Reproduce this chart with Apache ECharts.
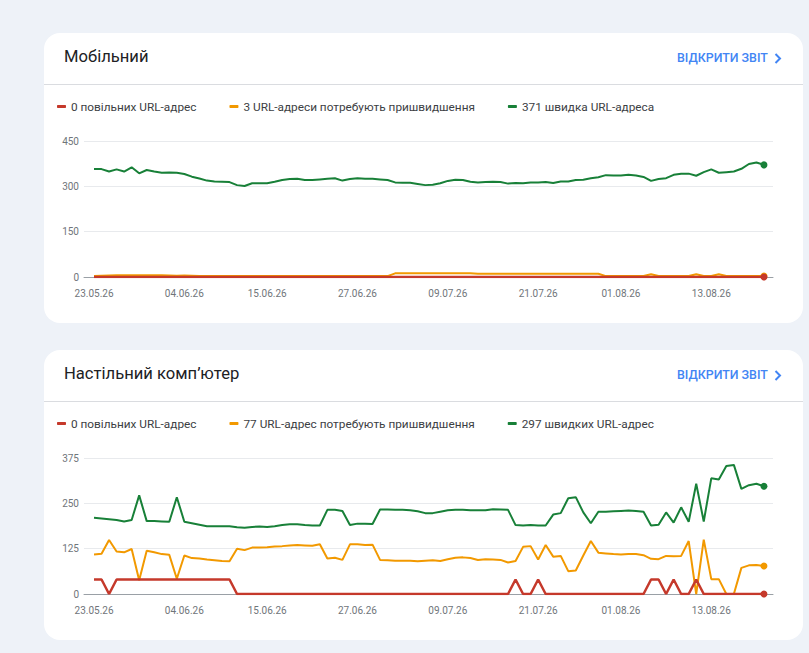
<!DOCTYPE html>
<html><head><meta charset="utf-8">
<script src="https://cdn.jsdelivr.net/npm/echarts@6/dist/echarts.min.js"></script>
<style>
html,body{margin:0;padding:0;background:#eef2f8;width:809px;height:653px;overflow:hidden;font-family:Roboto,"Noto Sans",sans-serif;}
.card{position:absolute;left:44px;width:759px;height:290px;background:#fff;border-radius:16px;}
.title{position:absolute;left:20px;top:14px;font-size:16.6px;line-height:20px;color:#202124;white-space:nowrap;}
.link{position:absolute;left:633px;top:17px;font-size:12.4px;line-height:16px;font-weight:500;color:#4285f4;white-space:nowrap;}
.link svg{position:absolute;left:97px;top:3px;}
.divider{position:absolute;left:0;right:0;top:51px;height:1px;background:#dadce0;}
.chart{position:absolute;left:0;top:52px;width:759px;height:238px;}
</style>
</head><body>
<div class="card" style="top:33px">
  <div class="title">Мобільний</div>
  <div class="link">ВІДКРИТИ ЗВІТ<svg width="8" height="11" viewBox="0 0 8 11"><path d="M1.5 1 L6 5.5 L1.5 10" fill="none" stroke="#4285f4" stroke-width="2"/></svg></div>
  <div class="divider"></div>
  <div class="chart" id="c1"></div>
</div>
<div class="card" style="top:350px">
  <div class="title">Настільний комп’ютер</div>
  <div class="link">ВІДКРИТИ ЗВІТ<svg width="8" height="11" viewBox="0 0 8 11"><path d="M1.5 1 L6 5.5 L1.5 10" fill="none" stroke="#4285f4" stroke-width="2"/></svg></div>
  <div class="divider"></div>
  <div class="chart" id="c2"></div>
</div>
<script>
const dates = [
 '23.05.26','24.05.26','25.05.26','26.05.26','27.05.26','28.05.26','29.05.26','30.05.26','31.05.26',
 '01.06.26','02.06.26','03.06.26','04.06.26','05.06.26','06.06.26','07.06.26','08.06.26','09.06.26','10.06.26',
 '11.06.26','12.06.26','13.06.26','14.06.26','15.06.26','16.06.26','17.06.26','18.06.26','19.06.26','20.06.26',
 '21.06.26','22.06.26','23.06.26','24.06.26','25.06.26','26.06.26','27.06.26','28.06.26','29.06.26','30.06.26',
 '01.07.26','02.07.26','03.07.26','04.07.26','05.07.26','06.07.26','07.07.26','08.07.26','09.07.26','10.07.26',
 '11.07.26','12.07.26','13.07.26','14.07.26','15.07.26','16.07.26','17.07.26','18.07.26','19.07.26','20.07.26',
 '21.07.26','22.07.26','23.07.26','24.07.26','25.07.26','26.07.26','27.07.26','28.07.26','29.07.26','30.07.26','31.07.26',
 '01.08.26','02.08.26','03.08.26','04.08.26','05.08.26','06.08.26','07.08.26','08.08.26','09.08.26','10.08.26',
 '11.08.26','12.08.26','13.08.26','14.08.26','15.08.26','16.08.26','17.08.26','18.08.26','19.08.26','20.08.26'
];
const tickDates = ['23.05.26','04.06.26','15.06.26','27.06.26','09.07.26','21.07.26','01.08.26','13.08.26'];

const mobileNames = ['0 повільних URL-адрес','3 URL-адреси потребують пришвидшення','371 швидка URL-адреса'];
const mobileSlow = [
 0,0,0,0,0,0,0,0,0,0, 0,0,0,0,0,0,0,0,0,0, 0,0,0,0,0,0,0,0,0,0,
 0,0,0,0,0,0,0,0,0,0, 0,0,0,0,0,0,0,0,0,0, 0,0,0,0,0,0,0,0,0,0,
 0,0,0,0,0,0,0,0,0,0, 0,0,0,0,0,0,0,0,0,0, 0,0,0,0,0,0,0,0,0,0
];
const mobileNeedsWork = [
 3,4,5,6,6,6,6,6,6,6, 5,4,5,4,3,3,3,3,3,3, 3,3,3,3,3,3,3,3,3,3,
 3,3,3,3,3,3,3,3,3,3, 12,12,12,12,12,12,12,12,12,12, 12,11,11,11,11,11,11,11,11,11,
 11,11,11,11,11,11,11,11,3,3, 3,3,3,3,9,3,3,3,3,3, 9,3,3,9,3,3,3,3,3,3
];
const mobileFast = [
 357,357,349,356,349,363,343,354,349,345, 346,345,341,332,326,319,316,315,314,304,
 301,310,310,310,315,321,324,325,321,321, 323,325,327,319,324,327,325,325,323,321,
 313,312,312,308,304,305,310,318,322,321, 315,313,314,315,314,309,311,310,313,313,
 314,311,316,316,321,322,327,330,337,336, 336,338,336,331,318,324,327,338,342,342,
 335,347,356,345,347,349,358,374,379,371
];
const mobileYMax = 450, mobileYStep = 150;

const desktopNames = ['0 повільних URL-адрес','77 URL-адрес потребують пришвидшення','297 швидких URL-адрес'];
const desktopSlow = [
 40,40,0,40,40,40,40,40,40,40, 40,40,40,40,40,40,40,40,40,0,
 0,0,0,0,0,0,0,0,0,0, 0,0,0,0,0,0,0,0,0,0,
 0,0,0,0,0,0,0,0,0,0, 0,0,0,0,0,0,40,0,0,40,
 0,0,0,0,0,0,0,0,0,0, 0,0,0,0,40,40,0,40,0,0,
 40,0,0,0,0,0,0,0,0,0
];
const desktopNeedsWork = [
 109,111,149,117,115,124,38,119,115,110, 108,42,106,99,98,95,93,91,90,125,
 121,128,128,129,131,132,134,135,134,133, 137,98,100,94,137,137,135,136,94,93,
 92,92,92,90,92,93,91,96,100,101, 99,94,96,95,94,87,91,130,132,95,
 135,103,105,63,65,106,146,114,112,110, 109,110,110,107,97,96,105,104,105,146,
 0,150,41,41,0,0,72,79,80,77
];
const desktopFast = [
 210,208,206,204,200,204,272,201,201,200, 199,267,199,195,191,187,187,187,187,184,
 183,185,186,185,187,190,192,192,190,189, 189,232,232,229,190,194,194,193,233,233,
 232,232,231,228,223,223,227,231,232,232, 231,231,231,234,233,232,190,189,190,189,
 189,219,223,264,267,225,195,227,227,228, 229,230,229,227,189,191,225,197,239,199,
 304,200,319,316,353,356,290,300,304,297
];
const desktopYMax = 375, desktopYStep = 125;

const colors = ['#c5392b', '#f29900', '#188038'];

function toData(arr) {
  return arr.map((v, i) => i === arr.length - 1
    ? { value: [i, v], symbol: 'circle', symbolSize: 7 }
    : [i, v]);
}

function build(el, names, arrays, yMax, yStep) {
  const chart = echarts.init(document.getElementById(el), null, { renderer: 'svg' });
  const tickIdx = tickDates.map(d => dates.indexOf(d));
  const z = [5, 4, 3];
  const widths = [2.5, 2, 2];
  chart.setOption({
    animation: false,
    color: colors,
    legend: {
      left: 13, top: 15.5, padding: 0,
      icon: 'roundRect', itemWidth: 9, itemHeight: 3, itemGap: 33,
      selectedMode: false,
      textStyle: { color: '#3c4043', fontSize: 11.8, fontFamily: 'Roboto' },
      data: names
    },
    grid: { left: 40, right: 30, top: 56, height: 136, containLabel: false },
    xAxis: {
      type: 'value', min: -1.33, max: 90.2,
      axisLine: { show: true, lineStyle: { color: '#9aa0a6', width: 1 } },
      axisTick: { show: false },
      splitLine: { show: false },
      axisLabel: {
        customValues: tickIdx,
        formatter: v => dates[Math.round(v)],
        color: '#70757a', fontSize: 10, fontFamily: 'Roboto', margin: 11
      }
    },
    yAxis: {
      type: 'value', min: 0, max: yMax, interval: yStep,
      axisLine: { show: false }, axisTick: { show: false },
      axisLabel: { color: '#70757a', fontSize: 10, fontFamily: 'Roboto', margin: 5 },
      splitLine: { lineStyle: { color: '#e8eaed', width: 1 } }
    },
    series: arrays.map((arr, k) => ({
      name: names[k],
      type: 'line',
      data: toData(arr),
      symbol: 'none',
      showSymbol: true,
      showAllSymbol: true,
      z: z[k],
      lineStyle: { width: widths[k], color: colors[k] },
      itemStyle: { color: colors[k] },
      emphasis: { disabled: true }
    }))
  });
}

build('c1', mobileNames, [mobileSlow, mobileNeedsWork, mobileFast], mobileYMax, mobileYStep);
build('c2', desktopNames, [desktopSlow, desktopNeedsWork, desktopFast], desktopYMax, desktopYStep);
</script>
</body></html>
